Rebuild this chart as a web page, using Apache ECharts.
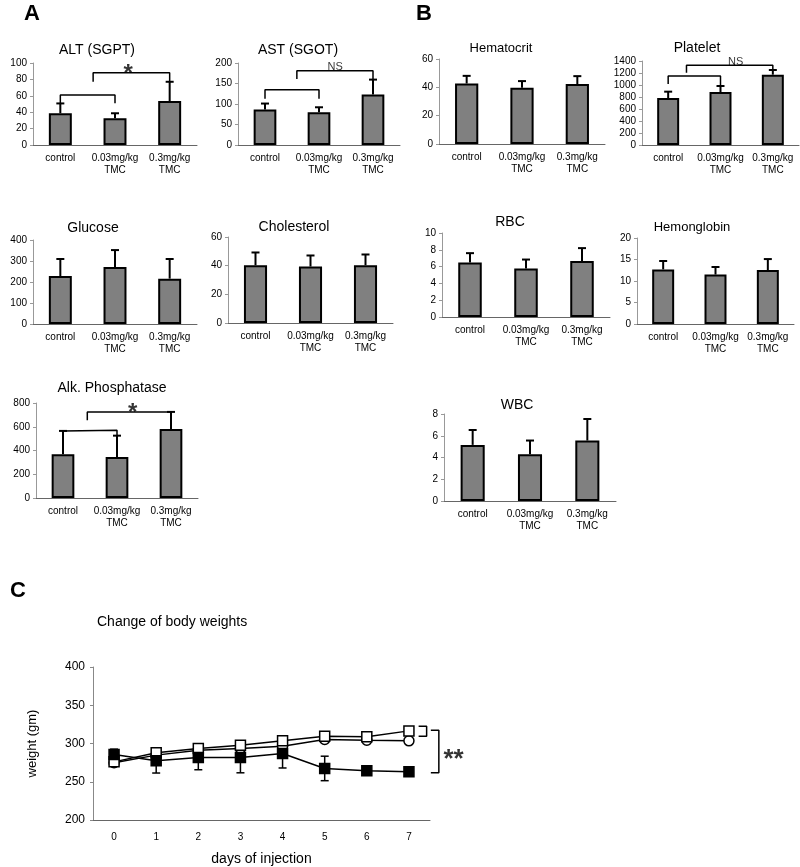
<!DOCTYPE html>
<html>
<head>
<meta charset="utf-8">
<script src="https://cdn.jsdelivr.net/npm/echarts@6/dist/echarts.min.js"></script>
<style>
html, body { margin: 0; padding: 0; background: #fff; }
#chart { width: 800px; height: 867px; }
</style>
</head>
<body>
<div id="chart"></div>
<script>
// groups shared by all bar panels
const groups = ['control', '0.03mg/kg\nTMC', '0.3mg/kg\nTMC'];

// panel A
const altMean = [38.7, 32.7, 53.6];
const altSd = [12, 6, 23.5];
const astMean = [86.6, 80, 123];
const astSd = [14.5, 12, 36.5];
const glucoseMean = [228.6, 271, 216];
const glucoseSd = [81, 81, 93.5];
const cholMean = [40.3, 39.4, 40.3];
const cholSd = [8.9, 7.7, 7.5];
const alkMean = [368, 346, 582];
const alkSd = [197, 179, 143];

// panel B
const hctMean = [42.7, 39.7, 42.3];
const hctSd = [5.4, 4.7, 5.6];
const pltMean = [783, 883, 1172];
const pltSd = [106, 100, 78];
const rbcMean = [6.5, 5.76, 6.68];
const rbcSd = [1.1, 1.08, 1.52];
const hgbMean = [12.7, 11.5, 12.56];
const hgbSd = [1.95, 1.76, 2.54];
const wbcMean = [5.16, 4.31, 5.56];
const wbcSd = [1.37, 1.25, 1.98];

// significance brackets, [group position, value]
const altBrackets = [[[0, 51], [0, 61], [1, 61], [1, 51]], [[0.6, 77], [0.6, 88], [2, 88], [2, 77]]];
const astBrackets = [[[0, 113], [0, 135], [1, 135], [1, 113]], [[0.59, 161], [0.59, 181], [2, 181], [2, 158]]];
const pltBrackets = [[[0, 1017], [0, 1150], [1, 1150], [1, 1000]], [[0.35, 1206], [0.35, 1328], [2, 1328], [2, 1239]]];
const alkBrackets = [[[0, 565], [0, 570], [1, 570], [1, 514]], [[0.45, 654], [0.45, 725], [2, 725], [2, 710]]];

// panel C: body weights
const days = ['0', '1', '2', '3', '4', '5', '6', '7'];
const wtHigh = [285.6, 277.4, 281.7, 281.7, 287, 267.4, 264.3, 263];
const wtHighSd = [7, 16, 16, 20, 19, 16, 4, 3];
const wtLow = [276, 288, 293.5, 297.8, 303.5, 309.6, 308.7, 316.5];
const wtLowSd = [4, 3, 6, 3, 3, 3, 3, 4];
const wtCtrl = [274.8, 284.8, 291.3, 293.5, 296.5, 305.2, 304.3, 303.5];
const wtCtrlSd = [3, 3, 3, 3, 3, 3, 3, 3];
const wtBrackets = [[[7.23, 322.6], [7.42, 322.6], [7.42, 309.6], [7.23, 309.6]], [[7.52, 317.4], [7.71, 317.4], [7.71, 261.7], [7.52, 261.7]]];

const font = '"Liberation Sans", Arial, sans-serif';

const panels = [
  { title: 'ALT (SGPT)', mean: altMean, sd: altSd, max: 100, step: 20, box: [33, 63, 164, 82], tpos: [97, 43], brackets: altBrackets, mark: { text: '*', at: [1.24, 93.5] } },
  { title: 'AST (SGOT)', mean: astMean, sd: astSd, max: 200, step: 50, box: [238, 63, 162, 82], tpos: [298, 43], brackets: astBrackets, mark: { text: 'NS', at: [1.3, 191] } },
  { title: 'Hematocrit', mean: hctMean, sd: hctSd, max: 60, step: 20, box: [439, 59, 166, 85], tpos: [501, 42], tsize: 13 },
  { title: 'Platelet', mean: pltMean, sd: pltSd, max: 1400, step: 200, box: [642, 61, 157, 84], tpos: [697, 41], brackets: pltBrackets, mark: { text: 'NS', at: [1.29, 1388] } },
  { title: 'Glucose', mean: glucoseMean, sd: glucoseSd, max: 400, step: 100, box: [33, 240, 164, 84], tpos: [93, 221] },
  { title: 'Cholesterol', mean: cholMean, sd: cholSd, max: 60, step: 20, box: [228, 237, 165, 86], tpos: [294, 220] },
  { title: 'RBC', mean: rbcMean, sd: rbcSd, max: 10, step: 2, box: [442, 233, 168, 84], tpos: [510, 215] },
  { title: 'Hemonglobin', mean: hgbMean, sd: hgbSd, max: 20, step: 5, box: [637, 238, 157, 86], tpos: [692, 221], tsize: 13 },
  { title: 'Alk. Phosphatase', mean: alkMean, sd: alkSd, max: 800, step: 200, box: [36, 403, 162, 95], tpos: [112, 381], brackets: alkBrackets, mark: { text: '*', at: [1.29, 766] } },
  { title: 'WBC', mean: wbcMean, sd: wbcSd, max: 8, step: 2, box: [444, 414, 172, 87], tpos: [517, 398] }
];

// upper error bar with a cap
function upperErr(params, api) {
  const a = api.coord([api.value(0), api.value(1)]);
  const b = api.coord([api.value(0), api.value(2)]);
  const st = { stroke: '#000', lineWidth: 2 };
  return { type: 'group', children: [
    { type: 'line', shape: { x1: a[0], y1: a[1], x2: b[0], y2: b[1] }, style: st },
    { type: 'line', shape: { x1: b[0] - 4, y1: b[1], x2: b[0] + 4, y2: b[1] }, style: st }
  ] };
}

// two-sided error bar
function bothErr(params, api) {
  const a = api.coord([api.value(0), api.value(1)]);
  const b = api.coord([api.value(0), api.value(2)]);
  const st = { stroke: '#000', lineWidth: 1.5 };
  return { type: 'group', children: [
    { type: 'line', shape: { x1: a[0], y1: a[1], x2: b[0], y2: b[1] }, style: st },
    { type: 'line', shape: { x1: a[0] - 4, y1: a[1], x2: a[0] + 4, y2: a[1] }, style: st },
    { type: 'line', shape: { x1: b[0] - 4, y1: b[1], x2: b[0] + 4, y2: b[1] }, style: st }
  ] };
}

const plain = v => String(v);

const option = {
  animation: false,
  backgroundColor: '#fff',
  textStyle: { fontFamily: font },
  title: [],
  grid: [],
  xAxis: [],
  yAxis: [],
  series: []
};

// panel letters
[['A', 32, 3], ['B', 424, 3], ['C', 18, 580]].forEach(([t, x, y]) => {
  option.title.push({ text: t, left: x, top: y, textAlign: 'center', padding: 0,
    textStyle: { fontSize: 22, fontWeight: 900, color: '#000', fontFamily: font } });
});

panels.forEach((p, i) => {
  option.title.push({ text: p.title, left: p.tpos[0], top: p.tpos[1], textAlign: 'center', padding: 0,
    textStyle: { fontSize: p.tsize || 14, fontWeight: 'normal', color: '#000', fontFamily: font } });
  option.grid.push({ left: p.box[0], top: p.box[1], width: p.box[2], height: p.box[3], outerBoundsMode: 'none' });
  option.xAxis.push({
    type: 'category', gridIndex: i, data: groups,
    axisLine: { onZero: false, lineStyle: { color: '#666', width: 1 } },
    axisTick: { inside: true, length: 3, lineStyle: { color: '#666' } },
    axisLabel: { color: '#000', fontSize: 10, lineHeight: 12, margin: 7, interval: 0, fontFamily: font }
  });
  option.xAxis.push({ type: 'value', gridIndex: i, min: -0.5, max: 2.5, show: false });
  option.yAxis.push({
    type: 'value', gridIndex: i, min: 0, max: p.max, interval: p.step,
    splitLine: { show: false },
    axisLine: { show: true, onZero: false, lineStyle: { color: '#999' } },
    axisTick: { show: true, length: 3, lineStyle: { color: '#999' } },
    axisLabel: { color: '#000', fontSize: 10, margin: 6, fontFamily: font, formatter: plain }
  });
  option.series.push({
    type: 'bar', xAxisIndex: 2 * i, yAxisIndex: i, data: p.mean, barWidth: '42%',
    itemStyle: { color: '#808080', borderColor: '#000', borderWidth: 2 }
  });
  option.series.push({
    type: 'custom', xAxisIndex: 2 * i, yAxisIndex: i, renderItem: upperErr,
    data: p.mean.map((m, k) => [k, m, m + p.sd[k]]), encode: { x: 0, y: [1, 2] }, z: 3
  });
  (p.brackets || []).forEach(b => {
    option.series.push({
      type: 'line', xAxisIndex: 2 * i + 1, yAxisIndex: i, data: b, symbol: 'none', clip: false,
      lineStyle: { color: '#000', width: 1.5 }
    });
  });
  if (p.mark) {
    const star = p.mark.text === '*';
    option.series.push({
      type: 'scatter', xAxisIndex: 2 * i + 1, yAxisIndex: i, data: [p.mark.at], symbolSize: 1, clip: false,
      itemStyle: { color: 'rgba(0,0,0,0)' },
      label: { show: true, position: 'inside', formatter: p.mark.text, color: '#000',
        fontSize: star ? 24 : 11, fontWeight: star ? 'bold' : 'normal', offset: star ? [0, 6] : [0, 0], fontFamily: font }
    });
  }
});

// panel C
const ci = panels.length;
const cLeft = 93, cTop = 667, cW = 337, cH = 153;
option.title.push({ text: 'Change of body weights', left: 97, top: 615, padding: 0,
  textStyle: { fontSize: 14, fontWeight: 'normal', color: '#000', fontFamily: font } });
option.grid.push({ left: cLeft, top: cTop, width: cW, height: cH, outerBoundsMode: 'none' });
option.xAxis.push({
  type: 'category', gridIndex: ci, data: days, boundaryGap: true,
  name: 'days of injection', nameLocation: 'middle', nameGap: 32,
  nameTextStyle: { fontSize: 14, color: '#000', fontFamily: font },
  axisLine: { onZero: false, lineStyle: { color: '#666' } },
  axisTick: { inside: true, length: 4, lineStyle: { color: '#666' } },
  axisLabel: { color: '#000', fontSize: 10, margin: 12, fontFamily: font }
});
option.xAxis.push({ type: 'value', gridIndex: ci, min: -0.5, max: 7.5, show: false });
option.yAxis.push({
  type: 'value', gridIndex: ci, min: 200, max: 400, interval: 50,
  name: 'weight (gm)', nameLocation: 'middle', nameGap: 54, nameRotate: 90,
  nameTextStyle: { fontSize: 13, color: '#000', fontFamily: font },
  splitLine: { show: false },
  axisLine: { show: true, onZero: false, lineStyle: { color: '#888' } },
  axisTick: { show: true, length: 3, lineStyle: { color: '#888' } },
  axisLabel: { color: '#000', fontSize: 12, margin: 8, fontFamily: font }
});

// wider invisible grid sharing the same scale, for the brackets right of the plot
const ei = ci + 1;
option.grid.push({ left: cLeft, top: cTop, width: cW * 9 / 8, height: cH, outerBoundsMode: 'none' });
option.xAxis.push({ type: 'value', gridIndex: ei, min: -0.5, max: 8.5, show: false });
option.yAxis.push({ type: 'value', gridIndex: ei, min: 200, max: 400, show: false });

[[wtHigh, wtHighSd], [wtLow, wtLowSd], [wtCtrl, wtCtrlSd]].forEach(([m, s]) => {
  option.series.push({
    type: 'custom', xAxisIndex: 2 * ci, yAxisIndex: ci, renderItem: bothErr,
    data: m.map((v, k) => [k, v - s[k], v + s[k]]), encode: { x: 0, y: [1, 2] }, z: 1
  });
});

const lineDefs = [
  { data: wtCtrl, symbol: 'circle', fill: '#fff' },
  { data: wtLow, symbol: 'rect', fill: '#fff' },
  { data: wtHigh, symbol: 'rect', fill: '#000' }
];
lineDefs.forEach(d => {
  option.series.push({
    type: 'line', xAxisIndex: 2 * ci, yAxisIndex: ci, data: d.data,
    symbol: d.symbol, symbolSize: 10, showAllSymbol: true, z: 3,
    lineStyle: { color: '#000', width: 1.5 },
    itemStyle: { color: d.fill, borderColor: '#000', borderWidth: 1.5, opacity: 1 }
  });
});

wtBrackets.forEach(b => {
  option.series.push({
    type: 'line', xAxisIndex: 2 * ci + 2, yAxisIndex: ei, data: b, symbol: 'none', clip: false,
    lineStyle: { color: '#000', width: 1.5 }
  });
});
option.series.push({
  type: 'scatter', xAxisIndex: 2 * ci + 2, yAxisIndex: ei, data: [[8.06, 287.4]], symbolSize: 1, clip: false,
  itemStyle: { color: 'rgba(0,0,0,0)' },
  label: { show: true, position: 'inside', formatter: '**', color: '#000', fontSize: 26, fontWeight: 'bold', offset: [0, 7], fontFamily: font }
});

const chart = echarts.init(document.getElementById('chart'));
chart.setOption(option);
</script>
</body>
</html>
